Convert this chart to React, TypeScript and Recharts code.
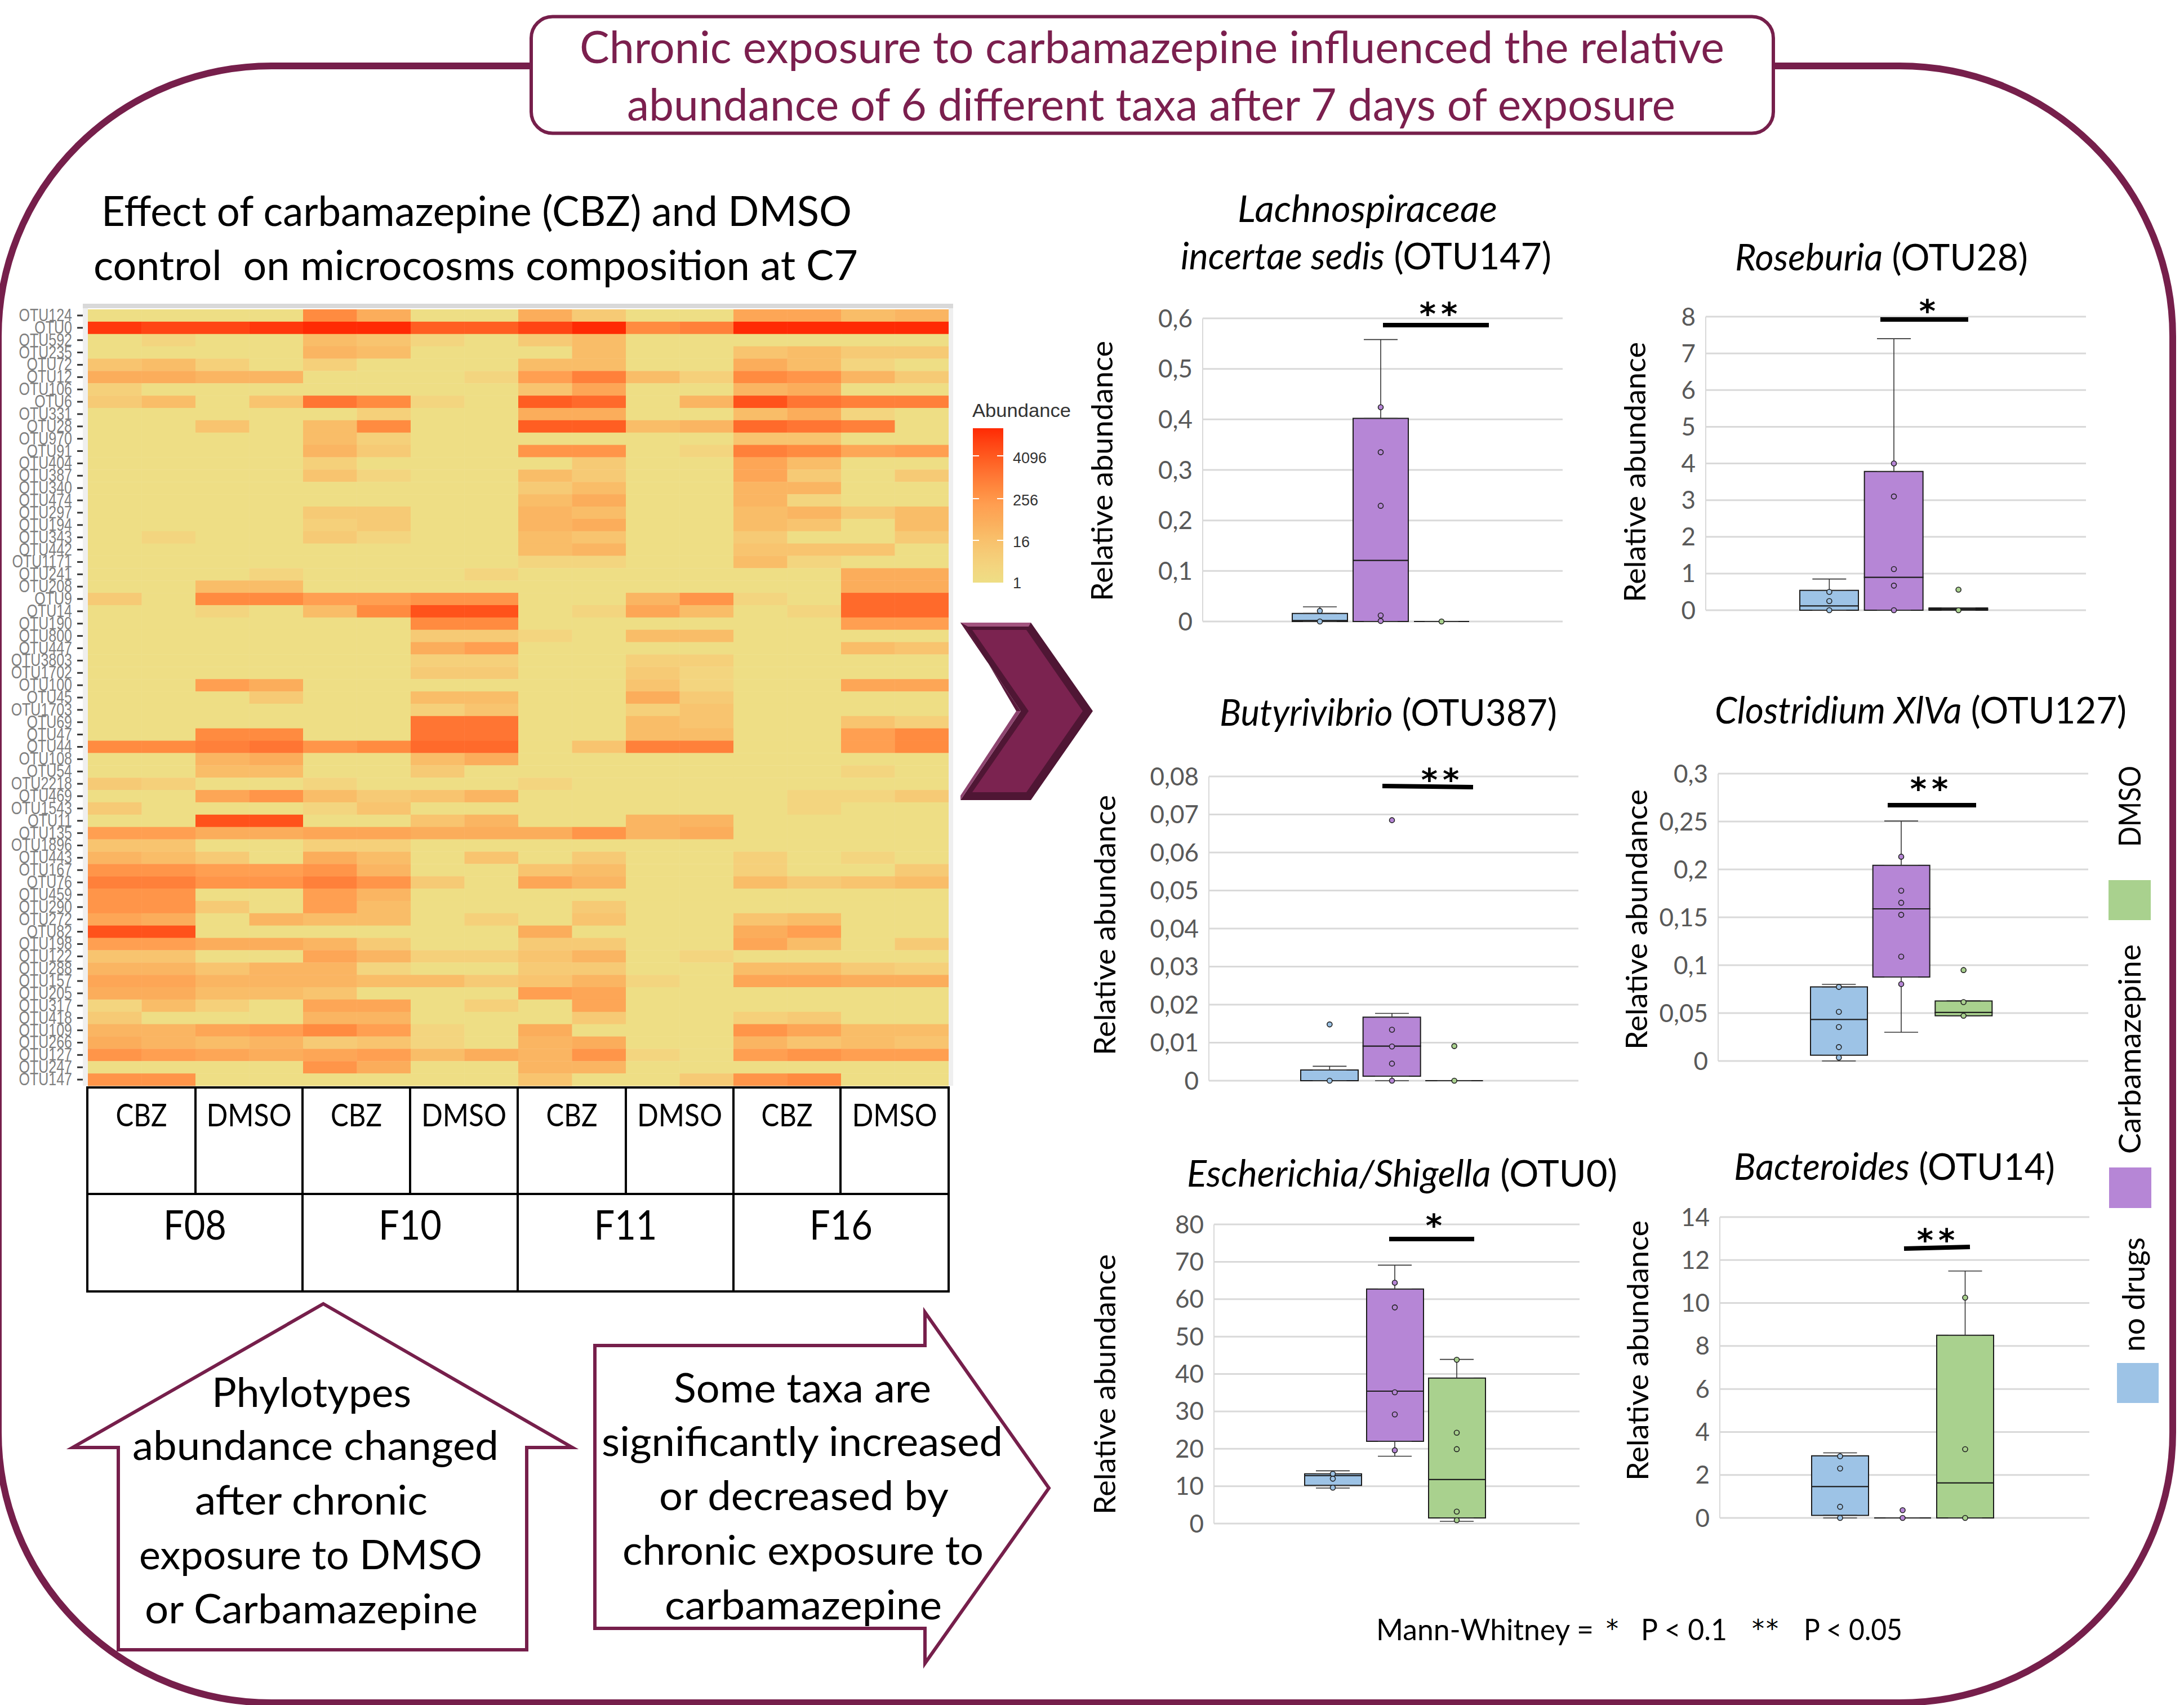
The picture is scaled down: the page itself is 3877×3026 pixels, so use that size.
import React from 'react';
import {
  ScatterChart, Scatter, ComposedChart, Bar, Line, XAxis, YAxis, CartesianGrid, ErrorBar,
} from 'recharts';

const PAGE_W = 3877;
const PAGE_H = 3026;
const WINE = '#761F4B';

/* ---------- heatmap data ---------- */
const otuNames = [
  'OTU124','OTU0','OTU592','OTU235','OTU72','OTU12','OTU106','OTU6','OTU331','OTU28','OTU970','OTU91','OTU404','OTU387','OTU340','OTU474',
  'OTU297','OTU194','OTU343','OTU442','OTU1171','OTU241','OTU208','OTU9','OTU14','OTU190','OTU800','OTU447','OTU3803','OTU1702','OTU100','OTU45',
  'OTU1703','OTU69','OTU47','OTU44','OTU108','OTU54','OTU2218','OTU469','OTU1543','OTU11','OTU135','OTU1896','OTU443','OTU167','OTU76','OTU459',
  'OTU290','OTU272','OTU82','OTU198','OTU122','OTU288','OTU157','OTU205','OTU317','OTU418','OTU109','OTU266','OTU127','OTU247','OTU147',
];
const heatLevels = [
  [0,0,0,0,6,4,0,0,4,2,0,0,4.5,4.5,3,3.5],
  [9.5,9,9,9.5,10,10,8,8,9,10,6,6.5,10,10,10,10],
  [0,1,0,0,3,2.5,1,0,2,3,0,0,0,0,0,0],
  [0,0,0,0,3.5,3,0,0,0,3,0,0,2.5,3,2,2],
  [2.5,3,1.5,0,1.5,0,0,0,3,3,0,0,4,3,1,0],
  [4,4,3.5,3.5,0,0,0,1,5,6.5,3,1.5,6,5.5,3.5,2],
  [1.5,0,0,0,0,0,0,0,2.5,4.5,0,0,3.5,4,0,0],
  [2,3,0,2.5,7,6,1,0,8,7.5,0,3.5,8.5,7,6.5,6.5],
  [0,0,0,0,0,1.5,0,0,4,4,0,0,3,4,1,0],
  [0,0,2.5,0,3,6,0,0,8,8,3,3.5,7.5,7,6.5,0],
  [0,0,0,0,3,1.5,0,0,0,0,0,0,2.5,2.5,0,0],
  [0,0,0,0,3.5,2,0,0,5.5,5.5,0,1,6.5,6,4.5,5],
  [0,0,0,0,1.5,0,0,0,0,2,0,0,4.5,3,0,0],
  [0,0,0,0,2.5,1,0,0,3,2,0,0,4.5,2,0,2],
  [0,0,0,0,0,0,0,0,2,3,0,0,3.5,3.5,0,0],
  [0,0,0,0,0,0,0,0,3,4,0,0,3.5,1,0,0],
  [0,0,0,0,2,2,0,0,3.5,3,0,0,3,3.5,2,3],
  [0,0,0,0,1.5,2,0,0,3.5,4,0,0,3,2.5,0,3],
  [0,1,0,0,2,1,0,0,3,2.5,0,0,2,0,0,2],
  [0,0,0,0,0,0,0,0,3,3.5,0,0,2.5,2.5,2.5,0],
  [0,0,0,0,0,0,0,0,1,1,0,0,3,1,0,0],
  [0,0,0,1,0,0,0,1,0,0,0,0,0,0,4,4],
  [0,0,3,3,0,0,0,0,0,0,0,0,0,0,4,4],
  [2,0,6,6,5,5,5.5,5.5,0,0,3.5,5.5,1,0,7.5,7.5],
  [0,0,1,0,3,6,8.5,8.5,0,1,4.5,3,0,1,7.5,7.5],
  [0,0,0,0,0,0,6,6,0,0,0,0,0,0,5,5],
  [0,0,0,0,0,0,2,2,1,0,3,3,0,0,0,0],
  [0,0,0,0,0,0,4,5,0,0,0,0,0,0,3,2.5],
  [0,0,0,0,0,0,1.5,1.5,0,0,1.5,1.5,0,0,0,0],
  [0,0,0,0,0,0,2,2,0,0,2,1,0,0,0,0],
  [0,0,5,4,0,0,0,0,0,0,2.5,1,0,0,4.5,4.5],
  [0,0,0,2,0,0,3,3,0,0,4,2,0,0,0,0],
  [0,0,0,0,0,0,1.5,2.5,0,0,1.5,2.5,0,0,0,0],
  [0,0,0,0,0,0,7,7,0,0,3,2.5,0,0,2.5,1.5],
  [0,0,6,6,0,0,7,7,0,0,3,3,0,0,5,6],
  [6,6,6.5,7,5.5,6,7.5,7.5,0,2.5,6.5,6.5,0,0,5,6],
  [0,0,3.5,4,0,0,3,4,0,0,0,0,0,0,0,0],
  [0,0,3,3,0,0,2,0,0,0,0,0,0,0,1,0],
  [2,1.5,0,0,1,0,0,0,1,0,0,0,0,0,0,0],
  [0,0,4.5,5.5,3,2,2.5,3.5,0,0,0,0,0,1,1,2],
  [2,0,0,0,1,2.5,0,0,0,0,0,0,0,1,0,0],
  [0,0,8.5,8.5,0,0,2.5,3.5,0,0,3.5,3.5,0,0,0,0],
  [5,5,4,4,4.5,4.5,4,4,4,5.5,3.5,4,0,0,0,0],
  [2.5,2.5,0,0,1.5,1.5,0,0,0,0,0,0,0,0,0,0],
  [3.5,3,2,0,4,3,0,2.5,0,2,0,0,1.5,0,1,0],
  [5.5,5.5,5,5,5.5,3.5,0,0,2.5,3,0,0,1.5,0,0,2],
  [6.5,6.5,5.5,5.5,6.5,5.5,2,0,4.5,3.5,0,0,3,2,2.5,3],
  [5.5,5.5,0,0,5,3.5,0,0,0,0,0,0,0,0,0,0],
  [5.5,5.5,2,0,5,3,0,0,0,2,0,0,0,0,0,0],
  [4.5,4,0,3.5,3,3,0,1.5,0,2.5,0,0,2.5,3,0,0],
  [8.5,8.5,0,0,0,0,0,0,4,0,0,0,4,5,0,0],
  [5,5,4,4,3.5,2,0,0,2,2,0,0,4.5,3,0,2],
  [2.5,2.5,0,0,4.5,3.5,1.5,1.5,2.5,3.5,0,1,0,0,0,0],
  [3.5,3.5,2.5,3.5,3.5,1,0,0,2,2,0,0,3,3,2,1.5],
  [4.5,4.5,3.5,3.5,3.5,3,3,2,2.5,3.5,1,0,4.5,4.5,4,4],
  [4,4,3,3,2.5,0,0,0,5,4.5,0,0,0,0,0,0],
  [1,3,1.5,0,4.5,4.5,0,1.5,0,4.5,0,0,0,0,0,0],
  [2,0,0,0,3.5,3.5,0,0,0,2,0,0,1.5,2,0,0],
  [3.5,3.5,4.5,5,6,5,1,0,4,0,0,0,5.5,4.5,3,3],
  [4,3.5,3,3.5,2,2.5,1,0,3.5,4,0,0,3.5,2.5,3,2.5],
  [5.5,5,4.5,4,4.5,5,3,4,3.5,5.5,1,0,5,5.5,5,5],
  [0,0,0,0,5.5,4,0,0,3.5,3.5,0,0,0,0,0,0],
  [5.5,5.5,0,0,0,0,0,0,2.5,0,0,2,5.5,6,0,0],
];
const heatPalette = ['#EEDE85','#F3D57F','#F6CA75','#F9BD68','#FBAD5B','#FF9F51','#FF8B40','#FF7533','#FF5E22','#FF4514','#FF2A04'];
const legendLabels = ['4096', '256', '16', '1'];

/* ---------- box plot data: [min, q1, median, q3, max] per group ---------- */
const groups = ['no drugs', 'Carbamazepine', 'DMSO'];
const groupColors = ['#9DC3E6', '#B686D6', '#A9D18E'];

const otu147Stats = [[0, 0, 0.002, 0.016, 0.029], [0, 0, 0.121, 0.402, 0.558], [0, 0, 0, 0, 0]];
const otu147Points = [[0.021, 0], [0.424, 0.335, 0.229, 0.012, 0.001], [0]];
const otu147Ticks = [0, 0.1, 0.2, 0.3, 0.4, 0.5, 0.6];

const otu28Stats = [[0, 0, 0.12, 0.54, 0.85], [0, 0, 0.9, 3.78, 7.4], [0, 0, 0.03, 0.06, 0.06]];
const otu28Points = [[0.5, 0.25, 0], [4.0, 3.1, 1.12, 0.67, 0], [0.56, 0]];
const otu28Ticks = [0, 1, 2, 3, 4, 5, 6, 7, 8];

const otu387Stats = [[0, 0, 0, 0.0028, 0.0038], [0, 0.0012, 0.0091, 0.0167, 0.0177], [0, 0, 0, 0, 0]];
const otu387Points = [[0.0148, 0], [0.0685, 0.0134, 0.009, 0.0045, 0], [0.0091, 0]];
const otu387Ticks = [0, 0.01, 0.02, 0.03, 0.04, 0.05, 0.06, 0.07, 0.08];

const otu127Stats = [[0, 0.006, 0.0434, 0.0773, 0.08], [0.03, 0.0876, 0.1588, 0.2042, 0.2505], [0.0472, 0.0472, 0.0507, 0.0627, 0.0627]];
const otu127Points = [[0.0773, 0.0513, 0.0354, 0.0145, 0.0035], [0.2133, 0.1778, 0.1652, 0.1526, 0.109, 0.0803], [0.0949, 0.0615, 0.0472]];
const otu127Ticks = [0, 0.05, 0.1, 0.15, 0.2, 0.25, 0.3];

const otu0Stats = [[9.5, 10.2, 12.8, 13.3, 14.1], [18, 22, 35.4, 62.7, 69.1], [0.6, 1.5, 11.8, 38.9, 43.9]];
const otu0Points = [[13.3, 12, 9.6], [64.4, 57.8, 35.1, 29.2, 19.6], [43.8, 24.3, 19.9, 3.2, 0.9]];
const otu0Ticks = [0, 10, 20, 30, 40, 50, 60, 70, 80];

const otu14Stats = [[0, 0.12, 1.46, 2.89, 3.03], [0, 0, 0, 0, 0], [0, 0, 1.63, 8.5, 11.49]];
const otu14Points = [[2.87, 2.3, 0.52, 0], [0.36, 0], [10.25, 3.2, 0]];
const otu14Ticks = [0, 2, 4, 6, 8, 10, 12, 14];

/* ---------- helpers ---------- */
const hexToRgb = (h: string) => [1, 3, 5].map((i) => parseInt(h.slice(i, i + 2), 16));
const levelColor = (lv: number) => {
  const a = Math.floor(lv);
  const b = Math.min(heatPalette.length - 1, a + 1);
  const t = lv - a;
  const A = hexToRgb(heatPalette[a]);
  const B = hexToRgb(heatPalette[b]);
  return `rgb(${A.map((v, i) => Math.round(v + (B[i] - v) * t)).join(',')})`;
};

const heatCells = heatLevels.flatMap((row, r) => row.map((level, c) => ({ col: c, row: r, level })));
const rowTicks = otuNames.map((_, i) => i);

const HEAT = { left: 156, right: 1684, top: 549, bottom: 1927 };
const HEAT_PAD = 30;
const cellW = (HEAT.right - HEAT.left) / 16;
const cellH = (HEAT.bottom - HEAT.top) / otuNames.length;

const HeatCell = (p: any) => (
  <rect x={p.cx - cellW / 2} y={p.cy - cellH / 2} width={cellW + 0.4} height={cellH + 0.4} fill={levelColor(p.payload.level)} />
);

const HeatTick = (p: any) => (
  <g>
    <line x1={p.x} x2={p.x + 10} y1={p.y} y2={p.y} stroke="#333" strokeWidth={3} />
    <text
      transform={`translate(${p.x - 9},${p.y + 10}) scale(1,1.22)`}
      textAnchor="end"
      fontFamily="Liberation Sans"
      fontSize={25}
      fill="#7f7f7f"
    >
      {otuNames[p.payload.value]}
    </text>
  </g>
);

const Heatmap = () => (
  <div style={{ position: 'absolute', left: 0, top: HEAT.top - HEAT_PAD }}>
    <ScatterChart
      width={HEAT.right}
      height={HEAT.bottom - HEAT.top + HEAT_PAD * 2}
      margin={{ top: HEAT_PAD, right: 0, bottom: HEAT_PAD, left: 0 }}
    >
      <XAxis type="number" dataKey="col" domain={[-0.5, 15.5]} hide />
      <YAxis
        type="number"
        dataKey="row"
        reversed
        domain={[-0.5, otuNames.length - 0.5]}
        ticks={rowTicks}
        interval={0}
        width={HEAT.left}
        axisLine={false}
        tickLine={false}
        tickSize={19}
        tickMargin={0}
        tick={HeatTick}
      />
      <Scatter data={heatCells} isAnimationActive={false} shape={HeatCell} />
    </ScatterChart>
  </div>
);

const buildRows = (stats: number[][], points: number[][]) =>
  groups.map((group, g) => {
    const [min, q1, med, q3, max] = stats[g];
    const row: any = {
      group,
      g,
      q1,
      q3,
      lower: med - q1,
      upper: q3 - med,
      whiskerUp: [0, max - q3],
      whiskerDown: [q1 - min, 0],
    };
    points[g].forEach((v, i) => {
      row[`p${i}`] = v;
    });
    return row;
  });

const BoxSegment = (p: any) => {
  const h = Math.abs(p.height || 0);
  const top = Math.min(p.y, p.y + (p.height || 0));
  return (
    <path
      d={`M${p.x} ${top}h${p.width}v${h}h${-p.width}Z`}
      fill={groupColors[p.payload.g]}
      stroke="#1c1c1c"
      strokeWidth={2}
    />
  );
};

const RawDot = (p: any) => {
  if (p.cy == null || p.cx == null) return null;
  return <circle key={p.key} cx={p.cx} cy={p.cy} r={4.5} fill={groupColors[p.payload.g]} stroke="#222" strokeWidth={1.6} />;
};

const commaTick = (v: number) => String(v).replace('.', ',');

const YW = 170;
const PAD = 40;

const BoxChart = ({ stats, points, ticks, box }: any) => {
  const rows = buildRows(stats, points);
  const w = box.right - box.left;
  const h = box.bottom - box.top;
  const nPts = Math.max(...points.map((p: number[]) => p.length));
  const pointKeys = Array.from({ length: nPts }, (_, i) => `p${i}`);
  return (
    <div style={{ position: 'absolute', left: box.left - YW, top: box.top - PAD }}>
      <ComposedChart
        width={YW + w}
        height={h + PAD * 2}
        data={rows}
        margin={{ top: PAD, right: 0, bottom: PAD, left: 0 }}
        barCategoryGap={0}
      >
        <CartesianGrid horizontal vertical={false} stroke="#D9D9D9" strokeWidth={3} syncWithTicks />
        <XAxis dataKey="group" type="category" hide padding={{ left: box.padL, right: box.padR }} />
        <YAxis
          type="number"
          domain={[0, ticks[ticks.length - 1]]}
          ticks={ticks}
          interval={0}
          width={YW}
          stroke="#D9D9D9"
          strokeWidth={2}
          tickLine={false}
          tickSize={0}
          tickMargin={18}
          tickFormatter={commaTick}
          tick={{ fontFamily: 'Lato', fontSize: 44, fill: '#595959' }}
        />
        <Bar dataKey="q1" stackId="box" barSize={box.barW} fill="transparent" isAnimationActive={false} />
        <Bar dataKey="lower" stackId="box" barSize={box.barW} shape={BoxSegment} isAnimationActive={false} />
        <Bar dataKey="upper" stackId="box" barSize={box.barW} shape={BoxSegment} isAnimationActive={false} />
        <Line dataKey="q3" stroke="none" dot={false} activeDot={false} isAnimationActive={false}>
          <ErrorBar dataKey="whiskerUp" width={30} stroke="#333" strokeWidth={1.6} direction="y" isAnimationActive={false} />
        </Line>
        <Line dataKey="q1" stroke="none" dot={false} activeDot={false} isAnimationActive={false}>
          <ErrorBar dataKey="whiskerDown" width={30} stroke="#333" strokeWidth={1.6} direction="y" isAnimationActive={false} />
        </Line>
        {pointKeys.map((k) => (
          <Line key={k} dataKey={k} stroke="none" dot={RawDot} activeDot={false} isAnimationActive={false} />
        ))}
      </ComposedChart>
    </div>
  );
};

const boxLayouts = {
  otu147: { left: 2135, right: 2774, top: 565, bottom: 1103, padL: 154, padR: 161, barW: 98 },
  otu28: { left: 3028, right: 3703, top: 562, bottom: 1083, padL: 162, padR: 169, barW: 104 },
  otu387: { left: 2146, right: 2802, top: 1378, bottom: 1918, padL: 159, padR: 165, barW: 102 },
  otu127: { left: 3050, right: 3707, top: 1373, bottom: 1883, padL: 159, padR: 166, barW: 101 },
  otu0: { left: 2155, right: 2804, top: 2173, bottom: 2704, padL: 156, padR: 163, barW: 101 },
  otu14: { left: 3053, right: 3709, top: 2160, bottom: 2694, padL: 158, padR: 165, barW: 101 },
};

/* ---------- text helpers ---------- */
const T = ({ x, y, len, size = 72, fill = '#000', font = 'Lato', children, rot, ...rest }: any) => (
  <text
    x={rot ? undefined : x}
    y={rot ? undefined : y}
    transform={rot ? `translate(${x},${y}) rotate(-90)` : undefined}
    textLength={len}
    lengthAdjust="spacingAndGlyphs"
    fontFamily={font}
    fontSize={size}
    fill={fill}
    {...rest}
  >
    {children}
  </text>
);
const I = ({ children }: any) => <tspan fontStyle="italic">{children}</tspan>;

const Stars = ({ cx, cy, n }: any) => (
  <text x={cx + 4} y={cy + 29} textAnchor="middle" fontFamily="DejaVu Sans" fontWeight="bold" fontSize={56} letterSpacing={9} fill="#000">
    {'*'.repeat(n)}
  </text>
);

const yTitles = [
  [1975, 1067], [2921, 1069], [1980, 1873], [2924, 1863], [1980, 2688], [2926, 2628],
];
const sigBars = [
  { x1: 2455, x2: 2643, y1: 577, y2: 577, cx: 2554, cy: 547, n: 2 },
  { x1: 3338, x2: 3494, y1: 567, y2: 567, cx: 3422, cy: 542, n: 1 },
  { x1: 2454, x2: 2615, y1: 1395, y2: 1397, cx: 2557, cy: 1374, n: 2 },
  { x1: 3351, x2: 3508, y1: 1429, y2: 1429, cx: 3425, cy: 1390, n: 2 },
  { x1: 2466, x2: 2617, y1: 2199, y2: 2199, cx: 2546, cy: 2165, n: 1 },
  { x1: 3380, x2: 3497, y1: 2216, y2: 2213, cx: 3437, cy: 2191, n: 2 },
];

const tableXs = [155, 347, 537, 728, 919, 1111, 1302, 1492, 1684];
const famXs = [155, 537, 919, 1302, 1684];
const families = ['F08', 'F10', 'F11', 'F16'];
const treatments = ['CBZ', 'DMSO'];
const treatmentWidths = [91, 151];

const Underlay = () => (
  <svg width={PAGE_W} height={PAGE_H} style={{ position: 'absolute', left: 0, top: 0 }}>
    <rect x={147} y={539} width={1545} height={8} fill="#D9D9D9" />
    <rect x={147} y={547} width={9} height={1380} fill="#EFEFEF" />
    <rect x={1684} y={547} width={8} height={1380} fill="#EFEFEF" />
  </svg>
);

const Overlay = () => (
  <svg width={PAGE_W} height={PAGE_H} style={{ position: 'absolute', left: 0, top: 0 }}>
    <defs>
      <linearGradient id="abund" x1="0" y1="0" x2="0" y2="1">
        {[...heatPalette].reverse().map((c, i) => (
          <stop key={c} offset={i / (heatPalette.length - 1)} stopColor={c} />
        ))}
      </linearGradient>
    </defs>

    {/* frame */}
    <rect x={-3} y={117} width={3860} height={2905} rx={485} ry={480} fill="none" stroke={WINE} strokeWidth={12} />

    {/* header */}
    <rect x={943} y={29.5} width={2205} height={207} rx={38} ry={38} fill="#fff" stroke={WINE} strokeWidth={6} />
    <T x={1029} y={112} len={2032} size={80} fill="#7B1F4E">Chronic exposure to carbamazepine influenced the relative</T>
    <T x={1113} y={214} len={1861} size={80} fill="#7B1F4E">abundance of 6 different taxa after 7 days of exposure</T>

    {/* left heading */}
    <T x={180} y={401} len={1332} size={73}>Effect of carbamazepine (CBZ) and DMSO</T>
    <T x={166} y={497} len={1357} size={73} style={{ whiteSpace: 'pre' }} xmlSpace="preserve">control  on microcosms composition at C7</T>

    {/* heatmap legend */}
    <T x={1726} y={740} len={175} size={33} font="Liberation Sans" fill="#333">Abundance</T>
    <rect x={1727} y={760} width={54} height={274} fill="url(#abund)" />
    {[809, 885, 959].map((y) => (
      <g key={y} stroke="#fff" strokeWidth={2}>
        <line x1={1727} x2={1738} y1={y} y2={y} />
        <line x1={1770} x2={1781} y1={y} y2={y} />
      </g>
    ))}
    {legendLabels.map((l, i) => (
      <text key={l} x={1798} y={[822, 897, 971, 1044][i]} fontFamily="Liberation Sans" fontSize={27} fill="#333">{l}</text>
    ))}

    {/* table under the heatmap */}
    <g stroke="#000" strokeWidth={4} fill="none">
      <line x1={153} x2={1686} y1={1930} y2={1930} />
      <line x1={153} x2={1686} y1={2119} y2={2119} />
      <line x1={153} x2={1686} y1={2292} y2={2292} />
      {tableXs.map((x) => <line key={x} x1={x} x2={x} y1={1930} y2={2119} />)}
      {famXs.map((x) => <line key={x} x1={x} x2={x} y1={2119} y2={2292} />)}
    </g>
    {tableXs.slice(0, -1).map((x, i) => (
      <T key={x} x={(x + tableXs[i + 1]) / 2 - treatmentWidths[i % 2] / 2} y={1999} len={treatmentWidths[i % 2]} size={56}>
        {treatments[i % 2]}
      </T>
    ))}
    {families.map((f, i) => (
      <T key={f} x={(famXs[i] + famXs[i + 1]) / 2 - 56} y={2200} len={112} size={72}>{f}</T>
    ))}

    {/* chevron */}
    <polygon points="1705,1105 1830,1105 1940,1262 1830,1420 1705,1420 1812,1262" fill="#4F1634" />
    <polygon points="1705,1105 1830,1105 1826,1112 1718,1112" fill="#A2547F" />
    <polygon points="1705,1420 1812,1262 1804,1262 1705,1412" fill="#8E4570" />
    <polygon points="1705,1105 1812,1262 1804,1262 1716,1112" fill="#5A1A3C" />
    <polygon points="1726,1118 1822,1118 1922,1262 1822,1406 1726,1406 1826,1262" fill="#7B2350" />

    {/* callout arrows */}
    <polygon points="574,2314 1016,2569 935,2569 935,2928 210,2928 210,2569 129,2569" fill="#fff" stroke={WINE} strokeWidth={6} />
    <polygon points="1056,2388 1642,2388 1642,2329 1862,2641 1642,2952 1642,2890 1056,2890" fill="#fff" stroke={WINE} strokeWidth={6} />
    <T x={376} y={2497} len={354}>Phylotypes</T>
    <T x={235} y={2591} len={650}>abundance changed</T>
    <T x={346} y={2688} len={413}>after chronic</T>
    <T x={247} y={2785} len={609}>exposure to DMSO</T>
    <T x={257} y={2881} len={591}>or Carbamazepine</T>
    <T x={1196} y={2489} len={457}>Some taxa are</T>
    <T x={1068} y={2584} len={712}>significantly increased</T>
    <T x={1170} y={2680} len={514}>or decreased by</T>
    <T x={1105} y={2777} len={641}>chronic exposure to</T>
    <T x={1180} y={2874} len={492}>carbamazepine</T>

    {/* p-value key */}
    <T x={2443} y={2911} len={386} size={52}>Mann-Whitney =</T>
    <text x={2851} y={2906} fontFamily="DejaVu Sans" fontSize={44}>*</text>
    <T x={2913} y={2911} len={153} size={52}>P &lt; 0.1</T>
    <text x={3110} y={2906} fontFamily="DejaVu Sans" fontSize={44} letterSpacing={3}>**</text>
    <T x={3202} y={2911} len={175} size={52}>P &lt; 0.05</T>

    {/* panel titles */}
    <T x={2197} y={394} len={461} size={66}><I>Lachnospiraceae</I></T>
    <T x={2096} y={478} len={658} size={66}><I>incertae sedis</I> (OTU147)</T>
    <T x={3080} y={480} len={520} size={66}><I>Roseburia</I> (OTU28)</T>
    <T x={2165} y={1288} len={599} size={66}><I>Butyrivibrio</I> (OTU387)</T>
    <T x={3044} y={1284} len={731} size={66}><I>Clostridium XlVa</I> (OTU127)</T>
    <T x={2107} y={2106} len={764} size={66}><I>Escherichia/Shigella</I> (OTU0)</T>
    <T x={3078} y={2094} len={570} size={66}><I>Bacteroides</I> (OTU14)</T>

    {yTitles.map(([x, y]) => (
      <T key={`${x}-${y}`} x={x} y={y} rot len={462} size={52}>Relative abundance</T>
    ))}

    {sigBars.map((b) => (
      <g key={b.x1}>
        <line x1={b.x1} x2={b.x2} y1={b.y1} y2={b.y2} stroke="#000" strokeWidth={8} />
        <Stars cx={b.cx} cy={b.cy} n={b.n} />
      </g>
    ))}

    {/* treatment key */}
    <T x={3800} y={1503} rot len={144} size={54}>DMSO</T>
    <rect x={3743} y={1562} width={75} height={71} fill={groupColors[2]} />
    <T x={3800} y={2048} rot len={372} size={54}>Carbamazepine</T>
    <rect x={3744} y={2072} width={75} height={72} fill={groupColors[1]} />
    <T x={3807} y={2399} rot len={203} size={54}>no drugs</T>
    <rect x={3758} y={2419} width={74} height={71} fill={groupColors[0]} />
  </svg>
);

export default function App() {
  return (
    <div style={{ position: 'absolute', left: 0, top: 0, width: PAGE_W, height: PAGE_H, background: '#fff', overflow: 'hidden' }}>
      <Underlay />
      <Heatmap />
      <BoxChart stats={otu147Stats} points={otu147Points} ticks={otu147Ticks} box={boxLayouts.otu147} />
      <BoxChart stats={otu28Stats} points={otu28Points} ticks={otu28Ticks} box={boxLayouts.otu28} />
      <BoxChart stats={otu387Stats} points={otu387Points} ticks={otu387Ticks} box={boxLayouts.otu387} />
      <BoxChart stats={otu127Stats} points={otu127Points} ticks={otu127Ticks} box={boxLayouts.otu127} />
      <BoxChart stats={otu0Stats} points={otu0Points} ticks={otu0Ticks} box={boxLayouts.otu0} />
      <BoxChart stats={otu14Stats} points={otu14Points} ticks={otu14Ticks} box={boxLayouts.otu14} />
      <Overlay />
    </div>
  );
}
